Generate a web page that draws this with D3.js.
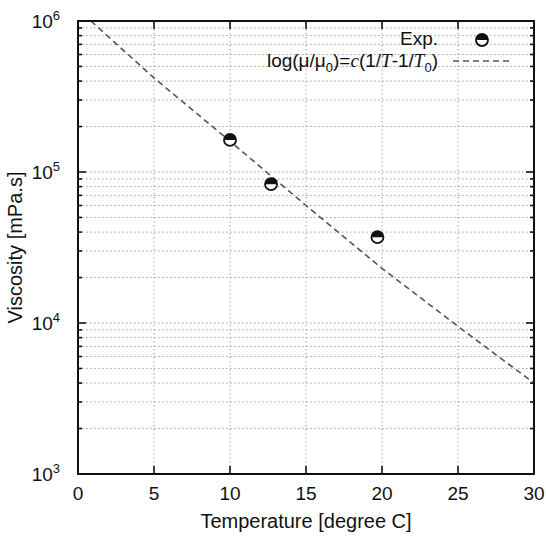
<!DOCTYPE html>
<html>
<head>
<meta charset="utf-8">
<script src="https://cdn.jsdelivr.net/npm/d3@7"></script>
<style>
body { margin: 0; background: #fff; }
text { font-family: "Liberation Sans", Arial, sans-serif; fill: #111; }
</style>
</head>
<body>
<div id="chart"></div>
<script>
// measured points
const expTemp = [10.0, 12.7, 19.7];
const expVisc = [1.63e5, 8.3e4, 3.7e4];
// fitted curve
const fitTemp = [0.85, 5, 10, 15, 20, 25, 30];
const fitVisc = [1.0e6, 4.2e5, 1.6e5, 6.0e4, 2.3e4, 9.5e3, 4.0e3];
const xTicks = [0, 5, 10, 15, 20, 25, 30];
const yExponents = [3, 4, 5, 6];

const width = 546, height = 538;
const margin = {left: 78, right: 12, top: 21, bottom: 64};

const svg = d3.select("#chart").append("svg")
    .attr("width", width)
    .attr("height", height);

const x = d3.scaleLinear().domain([0, 30]).range([margin.left, width - margin.right]);
const y = d3.scaleLog().domain([1e3, 1e6]).range([height - margin.bottom, margin.top]);

const x0 = x.range()[0], x1 = x.range()[1];
const yTop = y.range()[1], yBot = y.range()[0];

// minor + major values on log axis
const yAll = y.ticks(); // 1..9 x each decade
const yMajor = yExponents.map(e => Math.pow(10, e));
const isMajor = v => yMajor.some(m => Math.abs(m - v) / m < 1e-6);

// grid
const grid = svg.append("g")
    .attr("stroke", "#a0a0a0")
    .attr("stroke-width", 1)
    .attr("stroke-dasharray", "1.5,2.5");
yAll.filter(v => v > 1e3 && v < 1e6).forEach(v => {
    grid.append("line")
        .attr("x1", x0).attr("x2", x1)
        .attr("y1", y(v)).attr("y2", y(v));
});
xTicks.filter(t => t > 0 && t < 30).forEach(t => {
    grid.append("line")
        .attr("x1", x(t)).attr("x2", x(t))
        .attr("y1", yTop).attr("y2", yBot);
});

// fit line
const line = d3.line()
    .x((d, i) => x(fitTemp[i]))
    .y(d => y(d));
svg.append("path")
    .datum(fitVisc)
    .attr("d", line)
    .attr("fill", "none")
    .attr("stroke", "#555")
    .attr("stroke-width", 1.6)
    .attr("stroke-dasharray", "6,4");

// ticks (inward on all sides)
const ticks = svg.append("g").attr("stroke", "#111").attr("stroke-width", 1.6);
yAll.forEach(v => {
    const len = isMajor(v) ? 8 : 4;
    ticks.append("line").attr("x1", x0).attr("x2", x0 + len).attr("y1", y(v)).attr("y2", y(v));
    ticks.append("line").attr("x1", x1).attr("x2", x1 - len).attr("y1", y(v)).attr("y2", y(v));
});
xTicks.forEach(t => {
    ticks.append("line").attr("x1", x(t)).attr("x2", x(t)).attr("y1", yBot).attr("y2", yBot - 8);
    ticks.append("line").attr("x1", x(t)).attr("x2", x(t)).attr("y1", yTop).attr("y2", yTop + 8);
});

// frame
svg.append("rect")
    .attr("x", x0).attr("y", yTop)
    .attr("width", x1 - x0).attr("height", yBot - yTop)
    .attr("fill", "none")
    .attr("stroke", "#111")
    .attr("stroke-width", 2);

// x tick labels
xTicks.forEach(t => {
    svg.append("text")
        .attr("x", x(t)).attr("y", yBot + 26)
        .attr("text-anchor", "middle")
        .attr("font-size", "19px")
        .text(t);
});

// y tick labels 10^n
yExponents.forEach(e => {
    const t = svg.append("text")
        .attr("x", x0 - 18).attr("y", y(Math.pow(10, e)) + 7)
        .attr("text-anchor", "end")
        .attr("font-size", "19px");
    t.append("tspan").text("10");
    t.append("tspan").attr("dy", -8).attr("font-size", "13px").text(e);
});

// axis titles
svg.append("text")
    .attr("x", (x0 + x1) / 2).attr("y", height - 10)
    .attr("text-anchor", "middle")
    .attr("font-size", "20px")
    .text("Temperature [degree C]");
svg.append("text")
    .attr("transform", `translate(22,${(yTop + yBot) / 2}) rotate(-90)`)
    .attr("text-anchor", "middle")
    .attr("font-size", "20px")
    .text("Viscosity [mPa.s]");

// marker: circle with upper half filled
function marker(g, cx, cy) {
    const r = 6;
    g.append("circle").attr("cx", cx).attr("cy", cy).attr("r", r)
        .attr("fill", "#fff").attr("stroke", "#111").attr("stroke-width", 1.8);
    g.append("path")
        .attr("d", `M${cx - r},${cy} A${r},${r} 0 0 1 ${cx + r},${cy} Z`)
        .attr("fill", "#111");
}
const pts = svg.append("g");
expTemp.forEach((t, i) => marker(pts, x(t), y(expVisc[i])));

// legend
const legX = 438;
svg.append("text")
    .attr("x", legX).attr("y", 45)
    .attr("text-anchor", "end")
    .attr("font-size", "19px")
    .text("Exp.");
marker(svg.append("g"), 482, 40);

const f = svg.append("text")
    .attr("x", legX).attr("y", 67)
    .attr("text-anchor", "end")
    .attr("font-size", "19px");
f.append("tspan").text("log(μ/μ");
f.append("tspan").attr("dy", 5).attr("font-size", "13px").text("0");
f.append("tspan").attr("dy", -5).text(")=");
f.append("tspan").attr("font-family", "Liberation Serif").attr("font-style", "italic").text("c");
f.append("tspan").text("(1/");
f.append("tspan").attr("font-family", "Liberation Serif").attr("font-style", "italic").text("T");
f.append("tspan").text("-1/");
f.append("tspan").attr("font-family", "Liberation Serif").attr("font-style", "italic").text("T");
f.append("tspan").attr("dy", 5).attr("font-size", "13px").text("0");
f.append("tspan").attr("dy", -5).text(")");

svg.append("line")
    .attr("x1", 453).attr("x2", 511)
    .attr("y1", 61).attr("y2", 61)
    .attr("stroke", "#555")
    .attr("stroke-width", 1.6)
    .attr("stroke-dasharray", "6,4");
</script>
</body>
</html>
